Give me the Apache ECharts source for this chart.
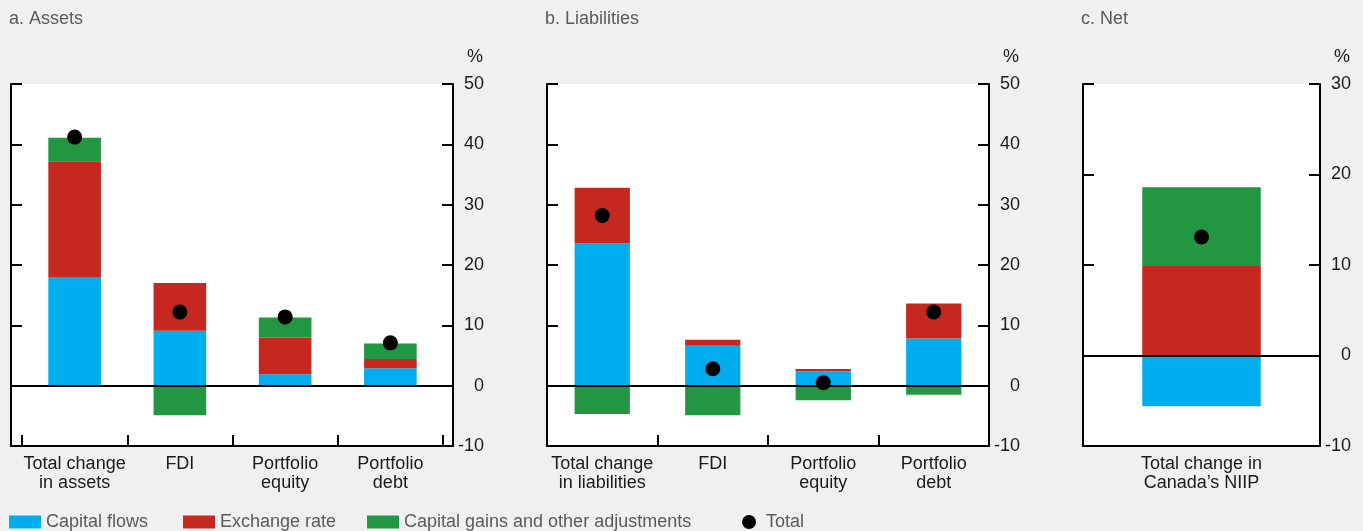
<!DOCTYPE html>
<html>
<head>
<meta charset="utf-8">
<title>Changes in Canada's international investment position</title>
<script src="https://cdn.jsdelivr.net/npm/echarts@6/dist/echarts.min.js"></script>
<style>
  html, body { margin: 0; padding: 0; background: #f0f0f0; }
  #chart { width: 1363px; height: 531px; }
</style>
</head>
<body>
<div id="chart"></div>
<script>
// Contributions to the change in positions, per cent
const seriesNames = ['Capital flows', 'Exchange rate', 'Capital gains and other adjustments', 'Total'];

const assetsCategories = ['Total change\nin assets', 'FDI', 'Portfolio\nequity', 'Portfolio\ndebt'];
const assetsFlows = [18.0, 9.1, 1.9, 2.9];
const assetsExchange = [19.2, 7.9, 6.1, 1.5];
const assetsGains = [3.9, -4.9, 3.3, 2.6];
const assetsTotal = [41.2, 12.2, 11.4, 7.1];

const liabCategories = ['Total change\nin liabilities', 'FDI', 'Portfolio\nequity', 'Portfolio\ndebt'];
const liabFlows = [23.6, 6.6, 2.4, 7.8];
const liabExchange = [9.2, 1.0, 0.35, 5.8];
const liabGains = [-4.7, -4.9, -2.4, -1.5];
const liabTotal = [28.2, 2.8, 0.5, 12.2];

const netCategories = ['Total change in\nCanada\u2019s NIIP'];
const netFlows = [-5.6];
const netExchange = [9.9];
const netGains = [8.7];
const netTotal = [13.1];

const panelTitles = ['a. Assets', 'b. Liabilities', 'c. Net'];
const axisRanges = [[-10, 50], [-10, 50], [-10, 30]];
const axisStep = 10;

const colors = ['#00aeef', '#c4281f', '#229640', '#000000'];
const FONT = '"Liberation Sans", Arial, Helvetica, sans-serif';
const INK = '#1a1a1a';
const GREY = '#5a5a5a';

// Panel geometry: frame box and the inner category band
const panels = [
  { frameLeft: 11, frameWidth: 442, dataLeft: 22, dataWidth: 421, ticks: true,
    cats: assetsCategories, flows: assetsFlows, fx: assetsExchange, gains: assetsGains, total: assetsTotal },
  { frameLeft: 547, frameWidth: 442, dataLeft: 547, dataWidth: 442, ticks: true,
    cats: liabCategories, flows: liabFlows, fx: liabExchange, gains: liabGains, total: liabTotal },
  { frameLeft: 1083, frameWidth: 237, dataLeft: 1083, dataWidth: 237, ticks: false,
    cats: netCategories, flows: netFlows, fx: netExchange, gains: netGains, total: netTotal }
];
const TOP = 84, HEIGHT = 362;

const grid = [], xAxis = [], yAxis = [], series = [], graphic = [];
const line = { color: '#000', width: 2 };

panels.forEach(function (p, i) {
  const [ymin, ymax] = axisRanges[i];
  const fg = grid.length;
  grid.push({ left: p.frameLeft, width: p.frameWidth, top: TOP, height: HEIGHT,
              show: true, backgroundColor: '#ffffff', borderWidth: 0 });
  const dg = grid.length;
  grid.push({ left: p.dataLeft, width: p.dataWidth, top: TOP, height: HEIGHT });

  // frame: bottom edge
  xAxis.push({ gridIndex: fg, type: 'value', min: 0, max: 1, position: 'bottom',
    axisLine: { show: true, onZero: false, lineStyle: line },
    axisTick: { show: false }, axisLabel: { show: false }, splitLine: { show: false } });
  // frame: zero line, drawn above the bars
  xAxis.push({ gridIndex: fg, type: 'value', min: 0, max: 1, position: 'top', z: 10,
    axisLine: { show: true, onZero: true, lineStyle: line },
    axisTick: { show: false }, axisLabel: { show: false }, splitLine: { show: false } });
  // categories
  const dx = xAxis.length;
  xAxis.push({ gridIndex: dg, type: 'category', data: p.cats,
    axisLine: { show: false, onZero: false },
    axisTick: { show: p.ticks, inside: true, length: 11, lineStyle: line },
    axisLabel: { fontFamily: FONT, fontSize: 18, color: INK, lineHeight: 19, margin: 9, interval: 0 } });

  const yBase = { type: 'value', min: ymin, max: ymax, interval: axisStep, splitLine: { show: false } };
  yAxis.push(Object.assign({ gridIndex: fg, position: 'left',
    axisLine: { show: true, onZero: false, lineStyle: line },
    axisTick: { show: true, inside: true, length: 11, lineStyle: line },
    axisLabel: { show: false } }, yBase));
  yAxis.push(Object.assign({ gridIndex: fg, position: 'right',
    axisLine: { show: true, onZero: false, lineStyle: line },
    axisTick: { show: true, inside: true, length: 11, lineStyle: line },
    axisLabel: { show: true, align: 'right', margin: 31, fontFamily: FONT, fontSize: 18, color: INK } }, yBase));
  const dy = yAxis.length;
  yAxis.push(Object.assign({ gridIndex: dg, show: false }, yBase));

  const stack = 'panel' + i;
  [p.flows, p.fx, p.gains].forEach(function (vals, k) {
    series.push({ type: 'bar', name: seriesNames[k], xAxisIndex: dx, yAxisIndex: dy,
      stack: stack, data: vals, barWidth: '50%', itemStyle: { color: colors[k] } });
  });
  series.push({ type: 'scatter', name: seriesNames[3], xAxisIndex: dx, yAxisIndex: dy,
    data: p.total, symbol: 'circle', symbolSize: 15, z: 5,
    itemStyle: { color: colors[3], opacity: 1 } });

  graphic.push({ type: 'text', left: p.frameLeft - 2, top: 10,
    style: { text: panelTitles[i], font: '18px ' + FONT, fill: GREY } });
  graphic.push({ type: 'text', x: p.frameLeft + p.frameWidth + 30, y: 57,
    style: { text: '%', font: '18px ' + FONT, fill: INK, align: 'right', verticalAlign: 'middle' } });
});

// one legend per entry so each key sits at its own spot along the bottom
const legendPos = [9, 183, 367, 742];
const legend = seriesNames.map(function (n, k) {
  const isDot = k === 3;
  return { data: [{ name: n, icon: isDot ? 'circle' : 'rect' }],
    left: legendPos[k], top: 513, padding: 0,
    itemWidth: isDot ? 14 : 32, itemHeight: isDot ? 14 : 13, itemGap: 0,
    selectedMode: false,
    textStyle: { fontFamily: FONT, fontSize: 18, color: GREY,
                 padding: isDot ? [0, 0, 0, 5] : [0, 0, 0, 0] } };
});

const chart = echarts.init(document.getElementById('chart'), null, { renderer: 'canvas' });
chart.setOption({
  backgroundColor: '#f0f0f0',
  animation: false,
  grid: grid, xAxis: xAxis, yAxis: yAxis, series: series,
  legend: legend, graphic: graphic
});
</script>
</body>
</html>
